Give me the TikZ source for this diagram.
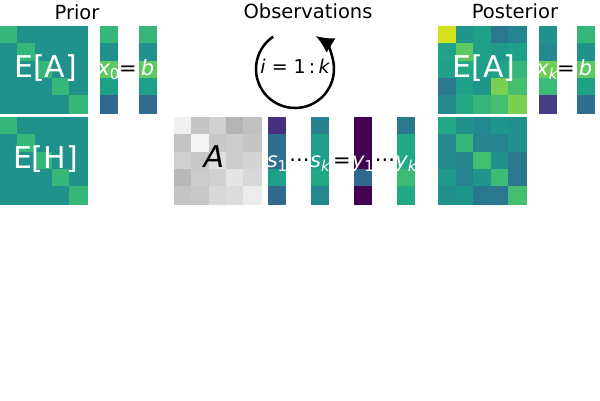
\documentclass[tikz,border=0pt]{standalone}
\usepackage{fontspec}
\setmainfont{DejaVu Sans}
\usetikzlibrary{arrows.meta}
\newcommand\fsz[1]{\fontsize{#1}{#1}\selectfont}
\newcommand\sub[1]{\raisebox{-0.22em}{\fsz{15}#1}}
% x, y, cols, cell width, cell height, colour list (row-major)
\newcommand\cellgrid[6]{%
  \foreach \c [count=\n from 0] in {#6} {%
    \pgfmathtruncatemacro\rr{floor(\n/#3)}%
    \pgfmathtruncatemacro\cc{mod(\n,#3)}%
    \definecolor{cellc}{HTML}{\c}%
    \fill[cellc, draw=cellc, line width=0.3pt] ({#1+\cc*#4},{#2+\rr*#5}) rectangle ++(#4,#5);%
  }}
\tikzset{
  title/.style={font=\fsz{19.5}, anchor=base, inner sep=0pt},
  biglbl/.style={font=\fsz{30}, anchor=base, inner sep=0pt},
  eqlbl/.style={font=\fsz{21}, anchor=base, inner sep=0pt},
  loopline/.style={line width=2.5pt, -{Latex[length=18pt,width=17pt]}},
}
\begin{document}
\begin{tikzpicture}[x=1pt,y=-1pt]
\useasboundingbox (0,0) rectangle (600,400);
% ---------------- Prior ----------------
\cellgrid{0}{26}{5}{17.4}{17.4}{35B779,21918C,21918C,21918C,21918C,
21918C,35B779,21918C,21918C,21918C,
21918C,21918C,35B779,21918C,21918C,
21918C,21918C,21918C,35B779,21918C,
21918C,21918C,21918C,21918C,35B779}
\cellgrid{0}{117}{5}{17.4}{17.4}{35B779,21918C,21918C,21918C,21918C,
21918C,35B779,21918C,21918C,21918C,
21918C,21918C,35B779,21918C,21918C,
21918C,21918C,21918C,35B779,21918C,
21918C,21918C,21918C,21918C,35B779}
\cellgrid{100.5}{26}{1}{17}{17.4}{35B779,21918C,5EC962,1FA187,31688E}
\cellgrid{139}{26}{1}{17}{17.4}{35B779,21918C,5EC962,1FA187,2F6C8E}
\node[title] (tprior) at (77,19) {Prior};
\node[biglbl, white] (pea) at (45.5,77) {E[A]};
\node[biglbl, white] (peh) at (45.5,168) {E[H]};
\node[eqlbl, white] (px0) at (108.5,75) {\itshape x\sub{\upshape 0}};
\node[eqlbl] (peq) at (128,75) {=};
\node[eqlbl, white] (pb) at (147.5,75) {\itshape b};
% ---------------- Observations ----------------
\node[title] (tobs) at (308,18.5) {Observations};
\coordinate (loopc) at (295,69);
\draw[loopline] ([shift={(124:39pt)}]loopc) arc[start angle=124, end angle=418, radius=39pt];
\node[font=\fsz{19}, anchor=base, inner sep=0pt] (lbl) at (295,73.3) {\itshape i\upshape\ =\ 1\,:\,\itshape k};
\cellgrid{174}{117}{5}{17.4}{17.4}{F0F0F0,C4C4C4,D0D0D0,B4B4B4,C0C0C0,
C4C4C4,F4F4F4,C8C8C8,CCCCCC,C4C4C4,
D0D0D0,C8C8C8,E0E0E0,CCCCCC,D4D4D4,
B8B8B8,CCCCCC,D0D0D0,E4E4E4,D8D8D8,
C4C4C4,C8C8C8,D8D8D8,DCDCDC,ECECEC}
\cellgrid{268}{117}{1}{17}{17.4}{46307E,2E6E8E,2E6E8E,1F9E89,31688E}
\cellgrid{311}{117}{1}{17}{17.4}{26828E,1F9E89,1FA088,22A884,23898E}
\cellgrid{354}{117}{1}{17}{17.4}{440154,440154,440154,31688E,440154}
\cellgrid{397.3}{117}{1}{17}{17.4}{2A788E,22A884,22A884,3BBB75,22A884}
\node[biglbl] (oa) at (214,167) {\itshape A};
\node[eqlbl, white] (s1) at (277,167) {\itshape s\sub{\upshape 1}};
\node[eqlbl] (d1) at (299.5,167) {···};
\node[eqlbl, white] (sk) at (320,167) {\itshape s\sub{k}};
\node[eqlbl] (oeq) at (342,167) {=};
\node[eqlbl, white] (y1) at (363,167) {\itshape y\sub{\upshape 1}};
\node[eqlbl] (d2) at (385,167) {···};
\node[eqlbl, white] (yk) at (406,167) {\itshape y\sub{k}};
% ---------------- Posterior ----------------
\node[title] (tpost) at (515,18.5) {Posterior};
\cellgrid{438.3}{26}{5}{17.48}{17.4}{D2E21B,1F958B,1FA088,2A788E,25848E,
20A386,5EC962,1FA088,1F9A8A,1FA088,
1FA088,22A884,1F9E89,20A386,35B779,
2A788E,1FA088,1F968B,7AD151,44BF70,
23898E,22A884,35B779,44BF70,7AD151}
\cellgrid{438.3}{117}{5}{17.48}{17.4}{22A884,21918C,23898E,1F968B,21918C,
23898E,35B779,25848E,25848E,21918C,
23898E,25848E,44BF70,21918C,2A788E,
1F9A8A,25848E,1F968B,3BBB75,2A788E,
21918C,1F968B,2A788E,2A788E,44BF70}
\cellgrid{539}{26}{1}{16.8}{17.4}{21918C,23898E,6ECE58,3BBB75,433E85}
\cellgrid{577}{26}{1}{17}{17.4}{35B779,21918C,5EC962,1FA187,2F6C8E}
\node[biglbl, white] (qea) at (483.8,77) {E[A]};
\node[eqlbl, white] (qxk) at (547,75) {\itshape x\sub{k}};
\node[eqlbl] (qeq) at (566,75) {=};
\node[eqlbl, white] (qb) at (585.5,75) {\itshape b};
\end{tikzpicture}
\end{document}
